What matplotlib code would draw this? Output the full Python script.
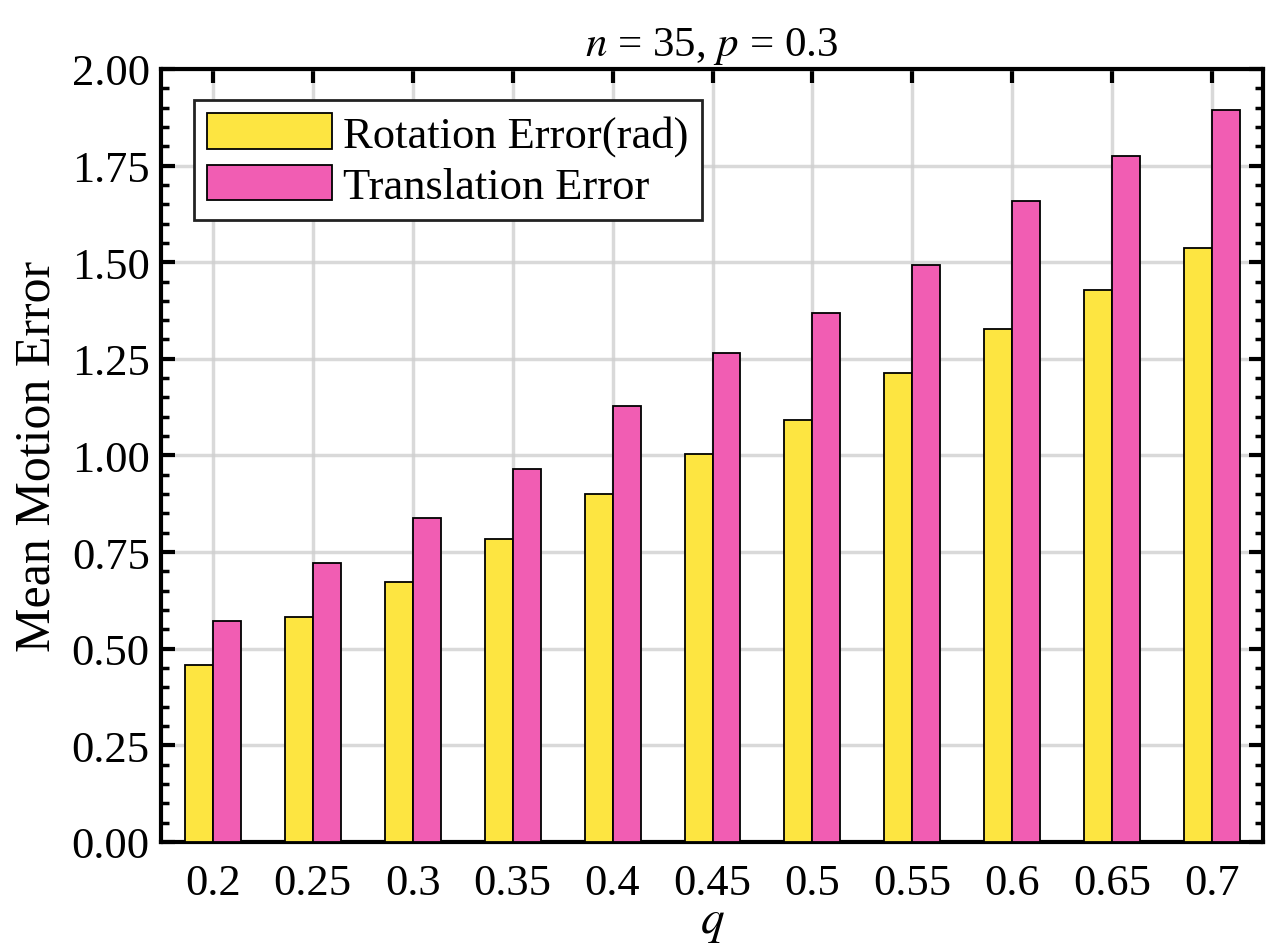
import matplotlib
matplotlib.use("Agg")
import matplotlib.pyplot as plt
from matplotlib.ticker import MultipleLocator
import numpy as np

plt.rcParams['font.family'] = ['Liberation Serif', 'DejaVu Serif']
plt.rcParams['mathtext.fontset'] = 'stix'

q_labels = ['0.2', '0.25', '0.3', '0.35', '0.4', '0.45', '0.5', '0.55', '0.6', '0.65', '0.7']
rot_err = [0.458, 0.582, 0.673, 0.784, 0.900, 1.004, 1.092, 1.213, 1.327, 1.428, 1.537]
trans_err = [0.572, 0.722, 0.838, 0.965, 1.128, 1.265, 1.369, 1.493, 1.658, 1.775, 1.895]

x = np.arange(len(q_labels))
w = 0.28

fig = plt.figure(figsize=(12.76, 9.45), dpi=100)
ax = fig.add_axes([0.126, 0.108, 0.864, 0.818])

ax.bar(x - w/2, rot_err, w, color='#fde541', edgecolor='black', linewidth=1.3,
       label='Rotation Error(rad)', zorder=3)
ax.bar(x + w/2, trans_err, w, color='#f15db3', edgecolor='black', linewidth=1.3,
       label='Translation Error', zorder=3)

ax.set_xlim(-0.52, 10.51)
ax.set_ylim(0, 2.0)
ax.set_xticks(x)
ax.set_xticklabels(q_labels)
ax.yaxis.set_major_locator(MultipleLocator(0.25))
ax.yaxis.set_minor_locator(MultipleLocator(0.05))
ax.yaxis.set_major_formatter(matplotlib.ticker.FormatStrFormatter('%.2f'))

ax.tick_params(axis='x', which='both', bottom=False, top=True, direction='in',
               length=10, width=3, labelsize=32, pad=15)
ax.tick_params(axis='y', which='major', left=True, right=True, direction='in',
               length=10, width=3, labelsize=32, pad=8)
ax.tick_params(axis='y', which='minor', left=True, right=True, direction='in',
               length=6, width=2.5)

for s in ax.spines.values():
    s.set_linewidth(3)

ax.grid(True, color='#d0d0d0', linewidth=2.5, alpha=0.8, zorder=0)
ax.set_axisbelow(True)

ax.set_title('$n$ = 35, $p$ = 0.3', fontsize=31, pad=10)
ax.set_xlabel('$q$', fontsize=34, labelpad=-1)
ax.set_ylabel('Mean Motion Error', fontsize=36, labelpad=8)

leg = ax.legend(loc='upper left', bbox_to_anchor=(0.03, 0.96), fontsize=32,
                fancybox=False, framealpha=1, edgecolor='#222222',
                handlelength=2.8, handleheight=0.85, borderpad=0.3, labelspacing=0.2,
                handletextpad=0.25, borderaxespad=0)
leg.get_frame().set_linewidth(2)

fig.savefig('out.png', dpi=100)
